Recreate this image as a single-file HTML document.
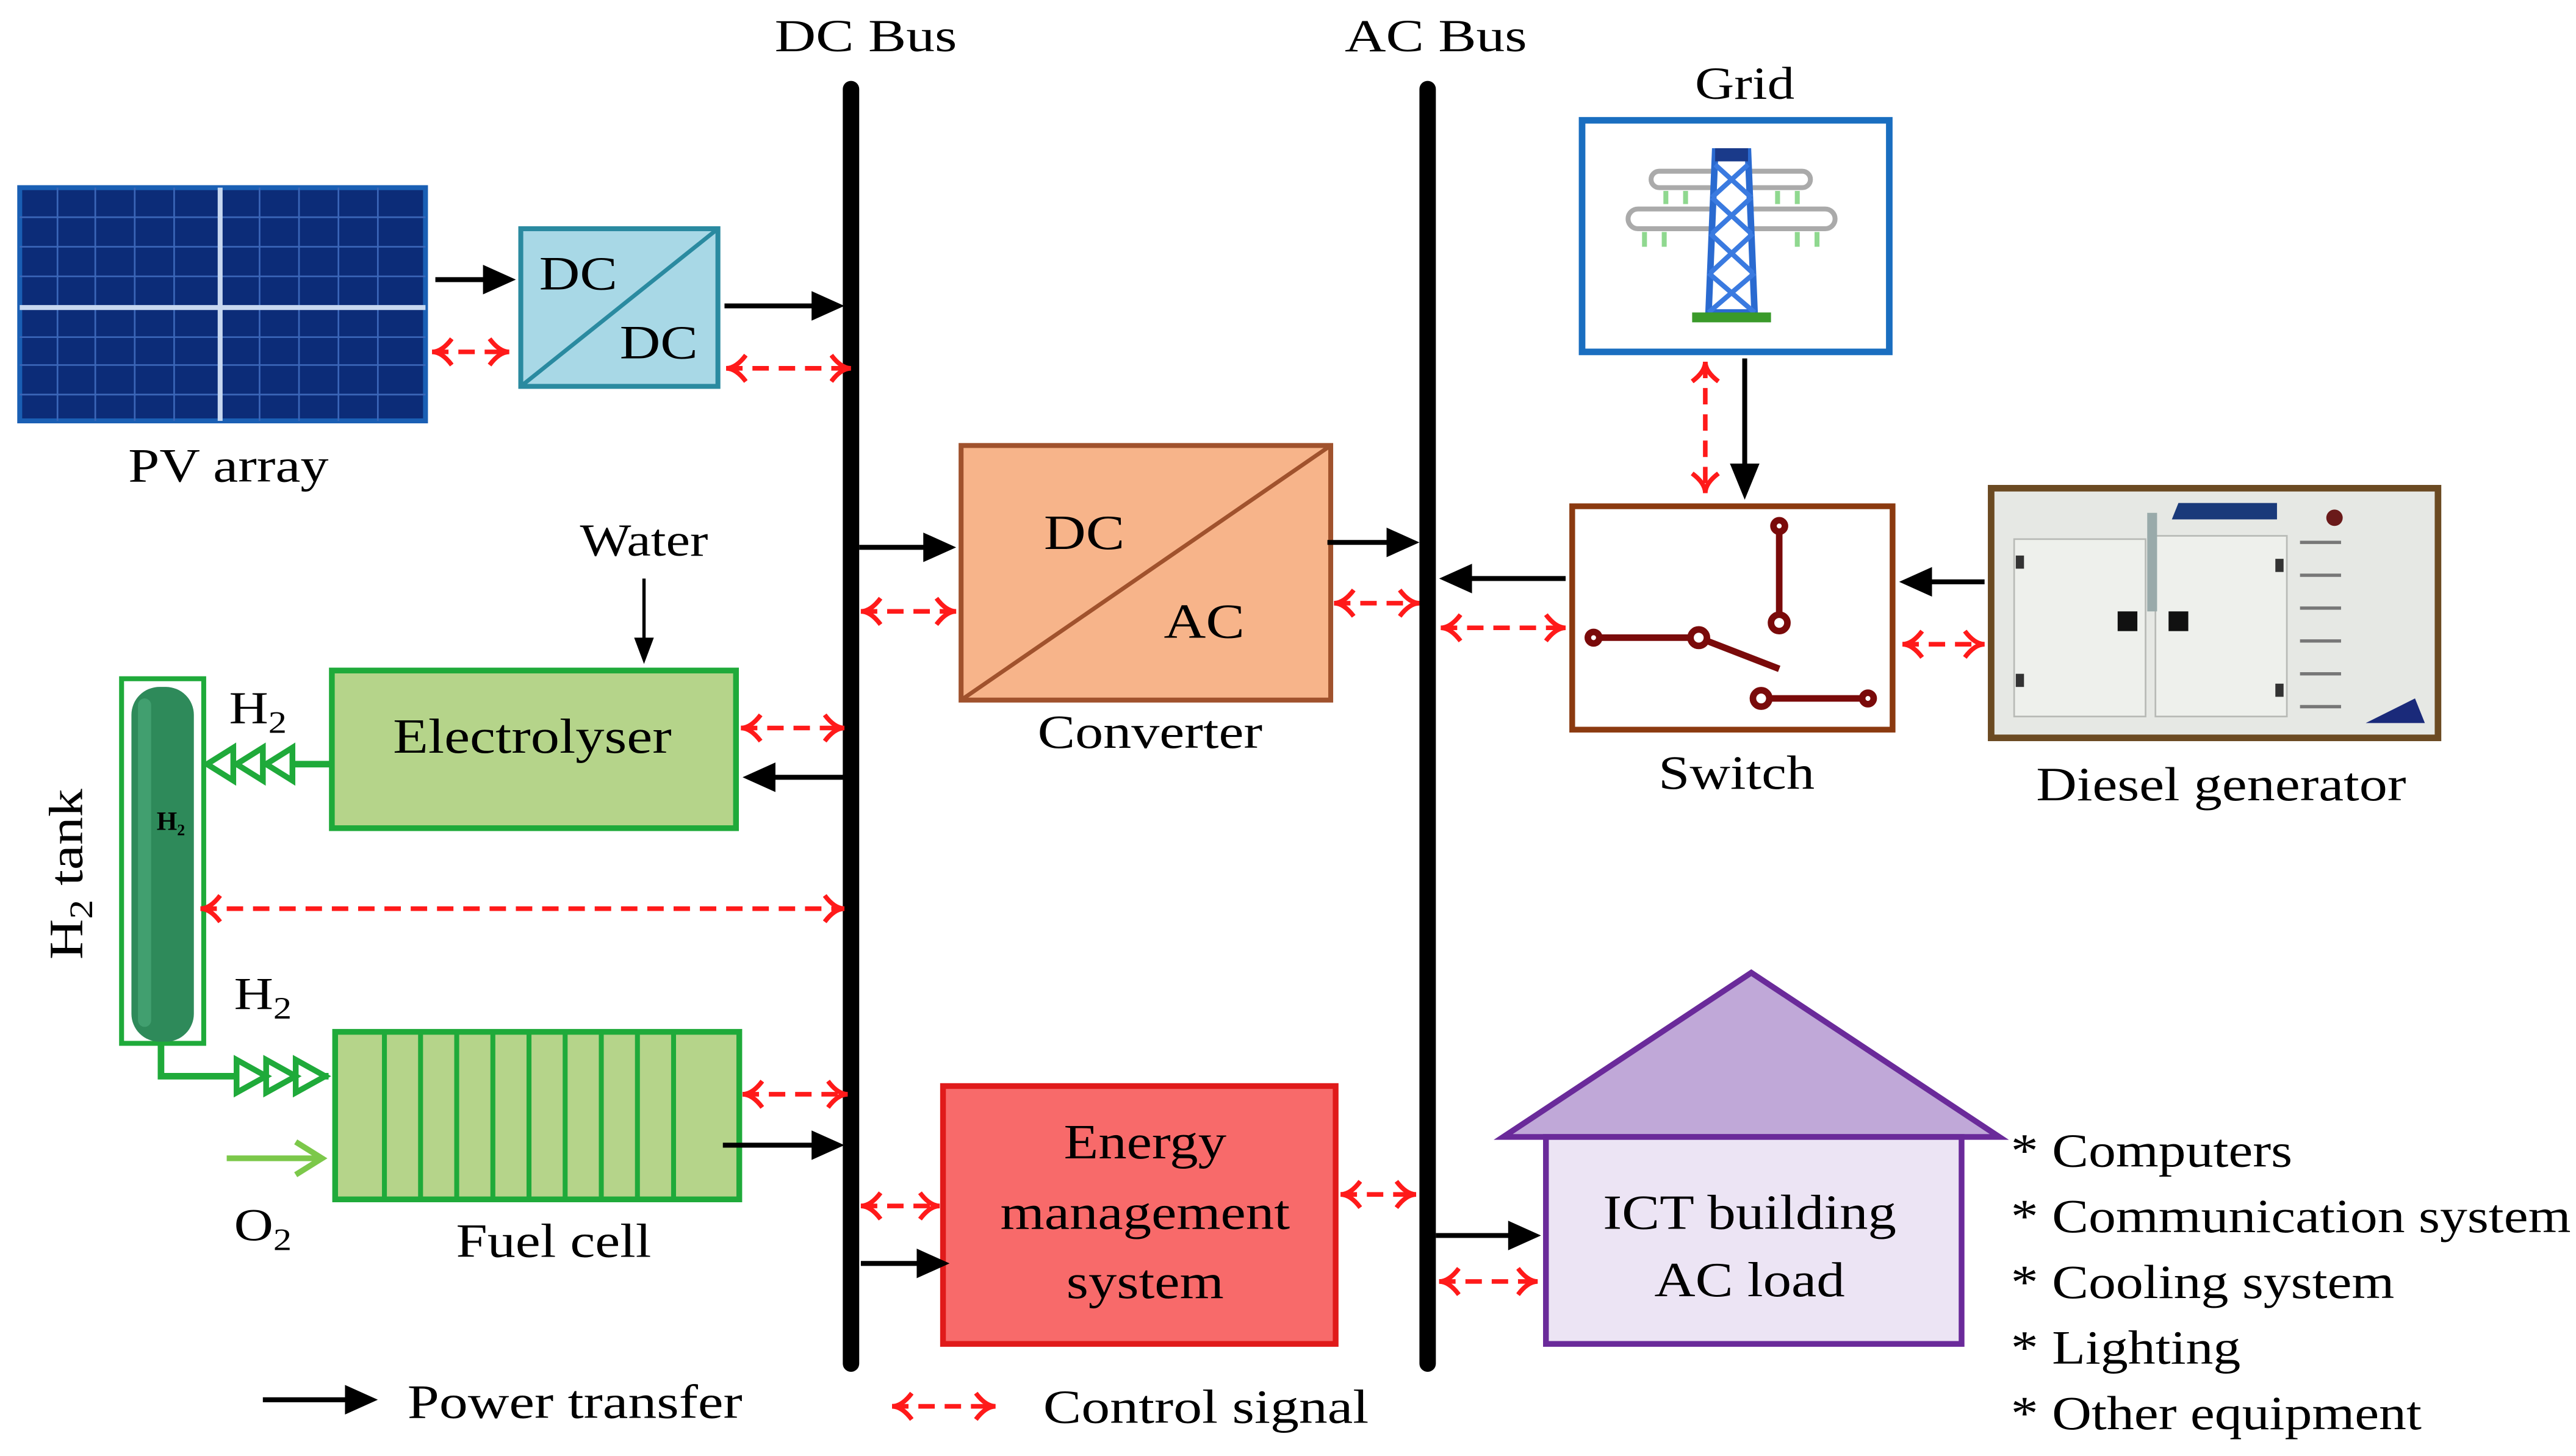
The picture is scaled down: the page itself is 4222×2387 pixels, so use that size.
<!DOCTYPE html>
<html><head><meta charset="utf-8"><style>
html,body{margin:0;padding:0;background:#fff;}
svg{display:block;}
text{font-family:"Liberation Serif",serif;fill:#000;}
</style></head><body>
<svg width="4222" height="2387" viewBox="0 0 1568 886" xmlns="http://www.w3.org/2000/svg">
<defs>
<marker id="ra" viewBox="0 0 14 18" refX="13" refY="9" markerWidth="14" markerHeight="18" orient="auto-start-reverse" markerUnits="userSpaceOnUse">
<path d="M1,1 Q7,9 13,9 Q7,9 1,17" fill="none" stroke="#ff1a1a" stroke-width="2.8"/>
</marker>
</defs>

<!-- Buses -->
<text transform="translate(527 31) scale(1.24 1)" font-size="28" text-anchor="middle">DC Bus</text>
<text transform="translate(874 31) scale(1.24 1)" font-size="28" text-anchor="middle">AC Bus</text>
<line x1="518" y1="54" x2="518" y2="830" stroke="#000" stroke-width="10" stroke-linecap="round"/>
<line x1="869" y1="54" x2="869" y2="830" stroke="#000" stroke-width="10" stroke-linecap="round"/>

<!-- PV array -->
<rect x="12" y="114" width="247" height="142" fill="#0c2c78" stroke="#1a5fb4" stroke-width="3"/>
<g stroke="#3b66b8" stroke-width="1">
<line x1="12" y1="132" x2="259" y2="132"/><line x1="12" y1="150" x2="259" y2="150"/><line x1="12" y1="168" x2="259" y2="168"/>
<line x1="12" y1="205" x2="259" y2="205"/><line x1="12" y1="222" x2="259" y2="222"/><line x1="12" y1="240" x2="259" y2="240"/>
<line x1="35" y1="114" x2="35" y2="256"/><line x1="58" y1="114" x2="58" y2="256"/><line x1="82" y1="114" x2="82" y2="256"/><line x1="106" y1="114" x2="106" y2="256"/>
<line x1="158" y1="114" x2="158" y2="256"/><line x1="182" y1="114" x2="182" y2="256"/><line x1="206" y1="114" x2="206" y2="256"/><line x1="230" y1="114" x2="230" y2="256"/>
</g>
<line x1="12" y1="187" x2="259" y2="187" stroke="#c8d8f0" stroke-width="3"/>
<line x1="134" y1="114" x2="134" y2="256" stroke="#c8d8f0" stroke-width="3"/>
<text transform="translate(139 293) scale(1.18 1)" font-size="29" text-anchor="middle">PV array</text>

<!-- DC/DC -->
<rect x="317" y="139" width="120" height="96" fill="#a8d8e6" stroke="#2a8aa0" stroke-width="3"/>
<line x1="317" y1="235" x2="437" y2="139" stroke="#2a8aa0" stroke-width="2.5"/>
<text transform="translate(352 176) scale(1.18 1)" font-size="29" text-anchor="middle">DC</text>
<text transform="translate(401 218) scale(1.18 1)" font-size="29" text-anchor="middle">DC</text>

<!-- Converter -->
<rect x="585" y="271" width="225" height="155" fill="#f7b48a" stroke="#a0522d" stroke-width="3"/>
<line x1="585" y1="426" x2="810" y2="271" stroke="#a0522d" stroke-width="2.5"/>
<text transform="translate(660 334) scale(1.18 1)" font-size="30" text-anchor="middle">DC</text>
<text transform="translate(733 388) scale(1.18 1)" font-size="30" text-anchor="middle">AC</text>
<text transform="translate(700 455) scale(1.18 1)" font-size="29" text-anchor="middle">Converter</text>

<!-- Grid -->
<text transform="translate(1062 60) scale(1.18 1)" font-size="28" text-anchor="middle">Grid</text>
<rect x="963" y="73" width="187" height="141" fill="#fff" stroke="#1a6ec0" stroke-width="4"/>
<g>
<rect x="1005" y="104" width="97" height="10" rx="5" fill="none" stroke="#aaa" stroke-width="3"/>
<rect x="991" y="127" width="126" height="12" rx="6" fill="none" stroke="#aaa" stroke-width="3"/>
<g stroke="#8fd88f" stroke-width="3"><line x1="1014" y1="116" x2="1014" y2="124"/><line x1="1026" y1="116" x2="1026" y2="124"/><line x1="1082" y1="116" x2="1082" y2="124"/><line x1="1094" y1="116" x2="1094" y2="124"/>
<line x1="1001" y1="141" x2="1001" y2="150"/><line x1="1013" y1="141" x2="1013" y2="150"/><line x1="1094" y1="141" x2="1094" y2="150"/><line x1="1106" y1="141" x2="1106" y2="150"/></g>
<path d="M1044,92 L1064,92 L1068,190 L1040,190 Z" fill="#fff" stroke="#2a6ad0" stroke-width="4"/>
<path d="M1044,100 L1066,120 M1064,100 L1042,120 M1042,120 L1066,142 M1066,120 L1042,142 M1041,142 L1067,166 M1067,142 L1041,166 M1040,166 L1068,190 M1068,166 L1040,190" stroke="#3a7ae0" stroke-width="3"/>
<rect x="1044" y="90" width="20" height="8" fill="#1a3a8a"/>
<rect x="1030" y="190" width="48" height="6" fill="#3a9a2a"/>
</g>

<!-- Switch -->
<rect x="957" y="308" width="195" height="136" fill="#fff" stroke="#8b3a10" stroke-width="3.5"/>
<g stroke="#7a0a0a" stroke-width="4" fill="#fff">
<line x1="1083" y1="322" x2="1083" y2="375"/>
<line x1="970" y1="388" x2="1034" y2="388"/>
<line x1="1034" y1="388" x2="1083" y2="407"/>
<line x1="1072" y1="425" x2="1136" y2="425"/>
<circle cx="1083" cy="320" r="3.5"/><circle cx="1083" cy="379" r="5"/>
<circle cx="970" cy="388" r="3.5"/><circle cx="1034" cy="388" r="5"/>
<circle cx="1072" cy="425" r="5"/><circle cx="1137" cy="425" r="3.5"/>
</g>
<text transform="translate(1057 480) scale(1.18 1)" font-size="29" text-anchor="middle">Switch</text>

<!-- Diesel generator -->
<rect x="1212" y="297" width="272" height="152" fill="#e6e8e4" stroke="#6b4a22" stroke-width="4"/>
<rect x="1226" y="328" width="80" height="108" fill="#eef0ec" stroke="#b8bab6" stroke-width="1"/>
<rect x="1312" y="326" width="80" height="110" fill="#eef0ec" stroke="#b8bab6" stroke-width="1"/>
<path d="M1322,316 L1386,316 L1386,306 L1326,306 Z" fill="#1a3a7a"/>
<rect x="1307" y="312" width="6" height="60" fill="#9aa"/>
<rect x="1289" y="372" width="12" height="12" fill="#111"/><rect x="1320" y="372" width="12" height="12" fill="#111"/>
<rect x="1227" y="338" width="5" height="8" fill="#333"/><rect x="1227" y="410" width="5" height="8" fill="#333"/>
<rect x="1385" y="340" width="5" height="8" fill="#333"/><rect x="1385" y="416" width="5" height="8" fill="#333"/>
<g stroke="#777" stroke-width="2"><line x1="1400" y1="330" x2="1425" y2="330"/><line x1="1400" y1="350" x2="1425" y2="350"/><line x1="1400" y1="370" x2="1425" y2="370"/><line x1="1400" y1="390" x2="1425" y2="390"/><line x1="1400" y1="410" x2="1425" y2="410"/><line x1="1400" y1="430" x2="1425" y2="430"/></g>
<circle cx="1421" cy="315" r="5" fill="#6a1a1a"/>
<path d="M1440,440 L1470,425 L1476,440 Z" fill="#1a2a7a"/>
<text transform="translate(1352 487) scale(1.18 1)" font-size="29" text-anchor="middle">Diesel generator</text>

<!-- Water / Electrolyser -->
<text transform="translate(392 338) scale(1.18 1)" font-size="28" text-anchor="middle">Water</text>
<line x1="392" y1="352" x2="392" y2="390" stroke="#000" stroke-width="2"/>
<path d="M386,388 L398,388 L392,404 Z" fill="#000"/>
<rect x="202" y="408" width="246" height="96" fill="#b5d48a" stroke="#1faa3a" stroke-width="3.5"/>
<text transform="translate(324 458) scale(1.17 1)" font-size="30" text-anchor="middle">Electrolyser</text>

<!-- H2 tank -->
<rect x="74" y="413" width="50" height="222" fill="#fff" stroke="#1faa3a" stroke-width="3"/>
<rect x="80" y="418" width="38" height="216" rx="17" fill="#2e8a5a"/>
<rect x="84" y="425" width="8" height="200" rx="4" fill="#4aa878" opacity="0.7"/>
<text x="104" y="505" font-size="16" font-weight="bold" text-anchor="middle" fill="#1a3a2a">H₂</text>
<text transform="translate(50,532) rotate(-90) scale(1.18 1)" font-size="29" text-anchor="middle">H<tspan font-size="20" dy="6">2</tspan><tspan dy="-6"> tank</tspan></text>
<text transform="translate(157 440) scale(1.18 1)" font-size="28" text-anchor="middle">H<tspan font-size="19" dy="6">2</tspan></text>
<text transform="translate(160 614) scale(1.18 1)" font-size="28" text-anchor="middle">H<tspan font-size="19" dy="6">2</tspan></text>

<!-- Electrolyser to tank -->
<line x1="202" y1="465" x2="128" y2="465" stroke="#1faa3a" stroke-width="4"/>
<path d="M178,455 L178,475 L162,465 Z M160,455 L160,475 L144,465 Z M142,455 L142,475 L126,465 Z" fill="#fff" stroke="#1faa3a" stroke-width="3.5"/>

<!-- Tank to fuel cell -->
<path d="M98,636 L98,655 L200,655" fill="none" stroke="#1faa3a" stroke-width="4"/>
<path d="M144,645 L144,665 L162,655 Z M162,645 L162,665 L180,655 Z M180,645 L180,665 L198,655 Z" fill="#fff" stroke="#1faa3a" stroke-width="3.5"/>

<!-- Fuel cell -->
<rect x="204" y="628" width="246" height="102" fill="#b5d48a" stroke="#1faa3a" stroke-width="3.5"/>
<g stroke="#1faa3a" stroke-width="3">
<line x1="234" y1="628" x2="234" y2="730"/><line x1="256" y1="628" x2="256" y2="730"/><line x1="278" y1="628" x2="278" y2="730"/><line x1="300" y1="628" x2="300" y2="730"/><line x1="322" y1="628" x2="322" y2="730"/><line x1="344" y1="628" x2="344" y2="730"/><line x1="366" y1="628" x2="366" y2="730"/><line x1="388" y1="628" x2="388" y2="730"/><line x1="410" y1="628" x2="410" y2="730"/>
</g>
<line x1="138" y1="705" x2="194" y2="705" stroke="#7cc84a" stroke-width="3.5"/>
<path d="M180,695 L196,705 L180,715" fill="none" stroke="#7cc84a" stroke-width="3.5"/>
<text transform="translate(160 755) scale(1.18 1)" font-size="28" text-anchor="middle">O<tspan font-size="19" dy="6">2</tspan></text>
<text transform="translate(337 765) scale(1.18 1)" font-size="29" text-anchor="middle">Fuel cell</text>

<!-- EMS -->
<rect x="574" y="661" width="239" height="157" fill="#f86a6a" stroke="#e01a1a" stroke-width="3.5"/>
<text transform="translate(697 705) scale(1.15 1)" font-size="30" text-anchor="middle">Energy</text>
<text transform="translate(697 748) scale(1.15 1)" font-size="30" text-anchor="middle">management</text>
<text transform="translate(697 790) scale(1.15 1)" font-size="30" text-anchor="middle">system</text>

<!-- ICT building -->
<polygon points="915,692 1066,592 1217,692" fill="#c0a8d8" stroke="#6a2a9a" stroke-width="3.5"/>
<rect x="941" y="692" width="253" height="126" fill="#ece4f4" stroke="#6a2a9a" stroke-width="3.5"/>
<text transform="translate(1065 748) scale(1.15 1)" font-size="30" text-anchor="middle">ICT building</text>
<text transform="translate(1065 789) scale(1.15 1)" font-size="30" text-anchor="middle">AC load</text>

<g font-size="29">
<text transform="translate(1224 710) scale(1.15 1)">* Computers</text>
<text transform="translate(1224 750) scale(1.15 1)">* Communication system</text>
<text transform="translate(1224 790) scale(1.15 1)">* Cooling system</text>
<text transform="translate(1224 830) scale(1.15 1)">* Lighting</text>
<text transform="translate(1224 870) scale(1.15 1)">* Other equipment</text>
</g>

<!-- Black power arrows -->
<g stroke="#000" stroke-width="3" fill="#000">
<line x1="265" y1="170" x2="296" y2="170"/><path d="M294,161 L314,170 L294,179 Z" stroke="none"/>
<line x1="441" y1="186" x2="496" y2="186"/><path d="M494,177 L514,186 L494,195 Z" stroke="none"/>
<line x1="523" y1="333" x2="564" y2="333"/><path d="M562,324 L582,333 L562,342 Z" stroke="none"/>
<line x1="808" y1="330" x2="846" y2="330"/><path d="M844,321 L864,330 L844,339 Z" stroke="none"/>
<line x1="953" y1="352" x2="894" y2="352"/><path d="M896,343 L876,352 L896,361 Z" stroke="none"/>
<line x1="1208" y1="354" x2="1174" y2="354"/><path d="M1176,345 L1156,354 L1176,363 Z" stroke="none"/>
<line x1="1062" y1="218" x2="1062" y2="284"/><path d="M1053,282 L1062,304 L1071,282 Z" stroke="none"/>
<line x1="514" y1="473" x2="470" y2="473"/><path d="M472,464 L452,473 L472,482 Z" stroke="none"/>
<line x1="440" y1="697" x2="496" y2="697"/><path d="M494,688 L514,697 L494,706 Z" stroke="none"/>
<line x1="524" y1="769" x2="560" y2="769"/><path d="M558,760 L578,769 L558,778 Z" stroke="none"/>
<line x1="874" y1="752" x2="920" y2="752"/><path d="M918,743 L938,752 L918,761 Z" stroke="none"/>
<line x1="160" y1="852" x2="212" y2="852"/><path d="M210,843 L230,852 L210,861 Z" stroke="none"/>
</g>

<!-- Red control arrows -->
<g stroke="#ff1a1a" stroke-width="2.8" stroke-dasharray="10,6" fill="none" marker-start="url(#ra)" marker-end="url(#ra)">
<line x1="263" y1="214" x2="310" y2="214"/>
<line x1="442" y1="224" x2="518" y2="224"/>
<line x1="524" y1="372" x2="582" y2="372"/>
<line x1="812" y1="367" x2="864" y2="367"/>
<line x1="877" y1="382" x2="953" y2="382"/>
<line x1="1158" y1="392" x2="1208" y2="392"/>
<line x1="1038" y1="220" x2="1038" y2="300"/>
<line x1="451" y1="443" x2="514" y2="443"/>
<line x1="122" y1="553" x2="514" y2="553"/>
<line x1="452" y1="666" x2="516" y2="666"/>
<line x1="524" y1="734" x2="572" y2="734"/>
<line x1="816" y1="727" x2="862" y2="727"/>
<line x1="876" y1="780" x2="936" y2="780"/>
<line x1="543" y1="856" x2="606" y2="856"/>
</g>

<text transform="translate(248 863) scale(1.2 1)" font-size="29">Power transfer</text>
<text transform="translate(635 866) scale(1.2 1)" font-size="29">Control signal</text>
</svg>
</body></html>
